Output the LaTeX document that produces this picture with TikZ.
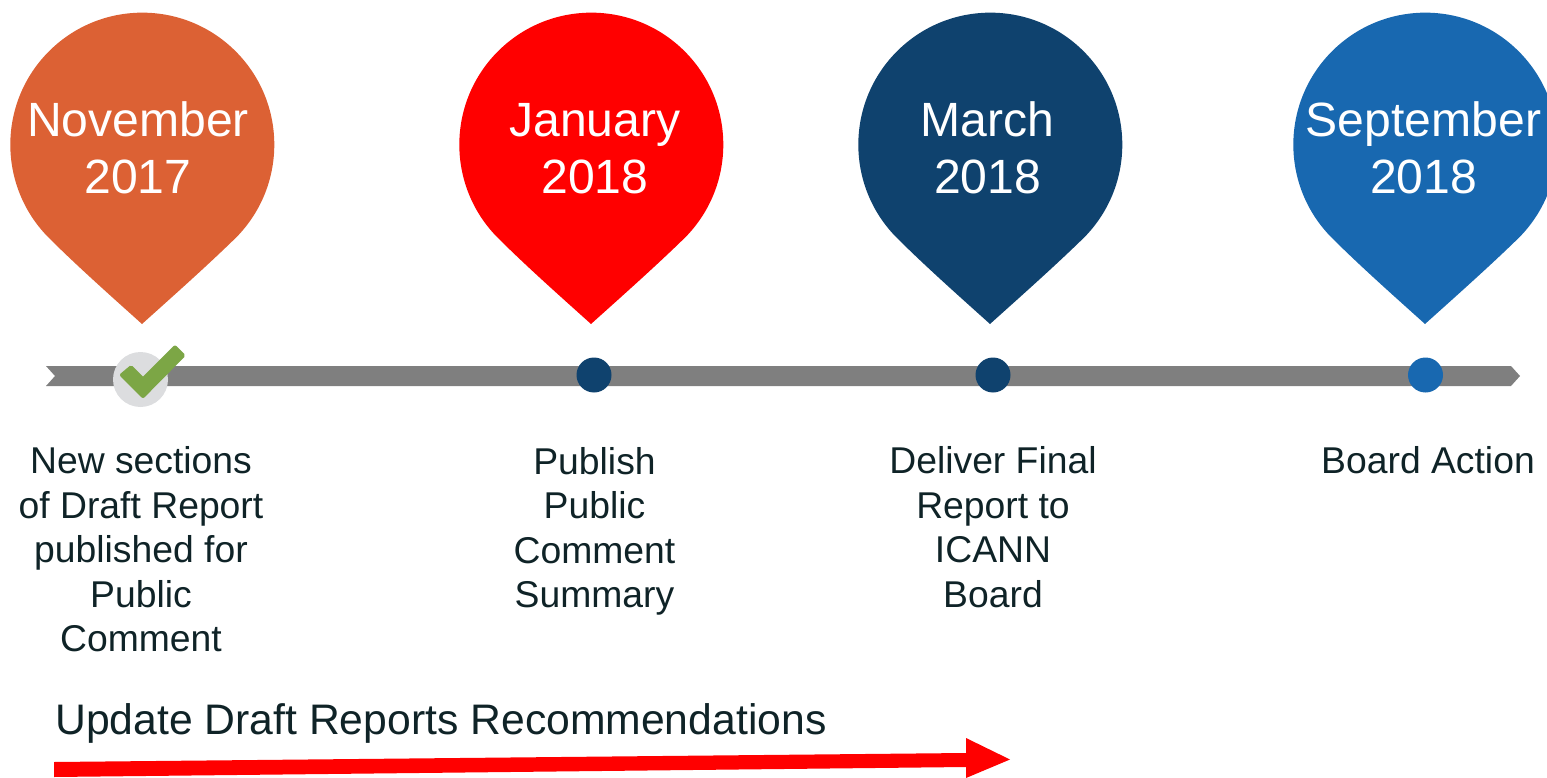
\documentclass[tikz,border=0pt]{standalone}
\usepackage{fontspec}
\setmainfont{Liberation Sans}
\definecolor{pinorange}{HTML}{DC6134}
\definecolor{pinred}{HTML}{FF0000}
\definecolor{pinnavy}{HTML}{0F426E}
\definecolor{pinblue}{HTML}{1868B0}
\definecolor{inktext}{HTML}{0F2327}
\definecolor{barcol}{HTML}{7F7F7F}
\definecolor{checkbg}{HTML}{DCDDDF}
\definecolor{checkgreen}{HTML}{7CA645}
\tikzset{
  x=1pt,y=-1pt,
  pintext/.style={text=white,align=center,font=\fontsize{48.1}{57}\selectfont,inner sep=0pt},
  eventtext/.style={text=inktext,align=center,font=\fontsize{37.3}{44.5}\selectfont,inner sep=0pt},
  headtext/.style={text=inktext,anchor=base west,font=\fontsize{42.7}{50}\selectfont,inner sep=0pt},
  dotmark/.style={circle,inner sep=0pt,minimum size=35pt,fill=pinnavy},
}
\newcommand{\mypin}[2]{%
  \begin{scope}[shift={(#1,0)}]
    \fill[#2] (-94,237) arc[start angle=135.6,end angle=404.4,radius=132]
      .. controls (65,266) and (30,297) .. (0,324)
      .. controls (-30,297) and (-65,266) .. (-94,237) -- cycle;
  \end{scope}}
\begin{document}
\begin{tikzpicture}
\useasboundingbox (0,0) rectangle (1547,778);
\clip (0,0) rectangle (1547,778);
\mypin{142}{pinorange}
\mypin{591}{pinred}
\mypin{990}{pinnavy}
\mypin{1425}{pinblue}
\fill[barcol] (46,366) -- (1511,366) -- (1520,376) -- (1511,386) -- (46,386) -- (55,376) -- cycle;
\node[circle,inner sep=0pt,minimum size=55pt,fill=checkbg] (chk) at (140.5,379.5) {};
\fill[checkgreen,draw=checkgreen,line width=4pt,line join=round]
  (175,347.5) -- (183,355.5) -- (143,396) -- (122,375) -- (131,367.5) -- (143,379.5) -- cycle;
\node[dotmark] (d2) at (594,375) {};
\node[dotmark] (d3) at (993,375) {};
\node[dotmark,fill=pinblue] (d4) at (1425.5,375) {};
\node[pintext] (p1) at (138,148) {November\\2017};
\node[pintext] (p2) at (595,149) {January\\2018};
\node[pintext] (p3) at (987.5,148) {March\\2018};
\node[pintext] (p4) at (1423.5,148) {September\\2018};
\node[eventtext] (e1) at (141,549.5) {New sections\\of Draft Report\\published for\\Public\\Comment};
\node[eventtext] (e2) at (594.5,531.5) {Publish\\Public\\Comment\\Summary};
\node[eventtext] (e3) at (993,527) {Deliver Final\\Report to\\ICANN\\Board};
\node[eventtext] (e4) at (1428,460) {Board Action};
\node[headtext] (h) at (55,734) {Update Draft Reports Recommendations};
\fill[pinred] (54,762) -- (966,753) -- (966,738) -- (1010,759.5) -- (966,778) -- (966,767) -- (54,777) -- cycle;
\end{tikzpicture}
\end{document}
